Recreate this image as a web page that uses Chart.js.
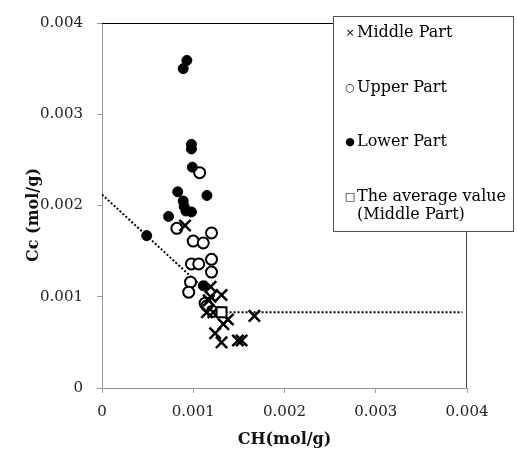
<!DOCTYPE html>
<html lang="en">
<head>
  <meta charset="UTF-8" />
  <title>Cc vs CH</title>
  <script src="https://cdn.jsdelivr.net/npm/chart.js"></script>
  <style>
    body { margin: 0; background: #ffffff; }
    #wrap { position: relative; width: 517px; height: 450px; }
  </style>
</head>
<body>
<div id="wrap"><canvas id="ccChart"></canvas></div>

<script>
  // Middle part (x markers)
  const middleX = [0.00091, 0.00119, 0.00119, 0.00131, 0.00117, 0.00115, 0.00122, 0.00138, 0.00133, 0.00124, 0.00131, 0.00149, 0.00153, 0.00167];
  const middleY = [0.00178, 0.00111, 0.00100, 0.00102, 0.00096, 0.00083, 0.00083, 0.00075, 0.00070, 0.00060, 0.00050, 0.00052, 0.00052, 0.00079];

  // Upper part (open circles)
  const upperX = [0.00107, 0.00082, 0.00120, 0.00100, 0.00111, 0.00098, 0.00106, 0.00120, 0.00120, 0.00097, 0.00095, 0.00113, 0.00115, 0.00121];
  const upperY = [0.00236, 0.00175, 0.00170, 0.00161, 0.00159, 0.00136, 0.00136, 0.00141, 0.00127, 0.00116, 0.00105, 0.00093, 0.00090, 0.00084];

  // Lower part (filled circles)
  const lowerX = [0.00093, 0.00089, 0.00098, 0.00098, 0.00099, 0.00083, 0.00115, 0.00089, 0.00090, 0.00092, 0.00098, 0.00073, 0.00049, 0.00111];
  const lowerY = [0.00359, 0.00350, 0.00267, 0.00262, 0.00242, 0.00215, 0.00211, 0.00205, 0.00199, 0.00194, 0.00193, 0.00188, 0.00167, 0.00112];

  // average value of middle part
  const avgX = [0.00131];
  const avgY = [0.00083];

  // dotted lines
  const slopeX = [0, 0.00115];
  const slopeY = [0.00212, 0.00106];
  const flatX = [0.00131, 0.00395];
  const flatY = [0.00083, 0.00083];

  const tickLabels = ['0', '0.001', '0.002', '0.003', '0.004'];

  const legendItems = [
    { sym: '\u00d7', text: ['Middle Part'], y: 33 },
    { sym: '\u25cb', text: ['Upper Part'], y: 88 },
    { sym: '\u25cf', text: ['Lower Part'], y: 142 },
    { sym: '\u25a1', text: ['The average value', '(Middle Part)'], y: 197 }
  ];

  function pts(xs, ys) {
    return xs.map((x, i) => ({ x: x, y: ys[i] }));
  }

  const serif = "'DejaVu Serif', 'Liberation Serif', serif";

  // top/right frame, y title, custom legend box
  const framePlugin = {
    id: 'frame',
    afterDraw(chart) {
      const ctx = chart.ctx;
      const a = chart.chartArea;
      ctx.save();
      ctx.lineWidth = 1;
      ctx.strokeStyle = '#000000';
      ctx.beginPath();
      ctx.moveTo(a.left, a.top + 0.5);
      ctx.lineTo(a.right, a.top + 0.5);
      ctx.stroke();
      ctx.strokeStyle = '#444444';
      ctx.beginPath();
      ctx.moveTo(a.right - 0.5, a.top);
      ctx.lineTo(a.right - 0.5, a.bottom);
      ctx.stroke();

      // y axis title
      ctx.save();
      ctx.translate(34, 215);
      ctx.rotate(-Math.PI / 2);
      ctx.font = 'bold 16px ' + serif;
      ctx.fillStyle = '#111111';
      ctx.textAlign = 'center';
      ctx.textBaseline = 'middle';
      ctx.fillText('Cc (mol/g)', 0, 0);
      ctx.restore();

      // legend
      ctx.fillStyle = '#ffffff';
      ctx.fillRect(333, 16, 181, 216);
      ctx.strokeStyle = '#555555';
      ctx.strokeRect(333.5, 16.5, 180, 215);
      ctx.fillStyle = '#000000';
      ctx.textBaseline = 'middle';
      legendItems.forEach(it => {
        ctx.font = "11px 'DejaVu Sans', sans-serif";
        ctx.textAlign = 'center';
        ctx.fillText(it.sym, 350, it.y);
        ctx.font = '16px ' + serif;
        ctx.textAlign = 'left';
        it.text.forEach((t, k) => ctx.fillText(t, 357, it.y + k * 18));
      });
      ctx.restore();
    }
  };

  const ctx = document.getElementById('ccChart').getContext('2d');

  new Chart(ctx, {
    type: 'scatter',
    data: {
      datasets: [
        {
          label: 'Middle Part',
          data: pts(middleX, middleY),
          pointStyle: 'crossRot',
          pointRadius: 8,
          borderColor: '#000000',
          borderWidth: 2.5,
          order: 1
        },
        {
          label: 'The average value (Middle Part)',
          data: pts(avgX, avgY),
          pointStyle: 'rect',
          pointRadius: 7,
          backgroundColor: '#ffffff',
          borderColor: '#000000',
          borderWidth: 2,
          order: 0
        },
        {
          label: 'Upper Part',
          data: pts(upperX, upperY),
          pointStyle: 'circle',
          pointRadius: 5.5,
          backgroundColor: '#ffffff',
          borderColor: '#000000',
          borderWidth: 2,
          order: 3
        },
        {
          label: 'Lower Part',
          data: pts(lowerX, lowerY),
          pointStyle: 'circle',
          pointRadius: 5,
          backgroundColor: '#000000',
          borderColor: '#000000',
          borderWidth: 1,
          order: 2
        },
        {
          label: 'slope',
          data: pts(slopeX, slopeY),
          showLine: true,
          pointRadius: 0,
          borderColor: '#000000',
          borderWidth: 2,
          borderDash: [2, 2],
          order: 4
        },
        {
          label: 'flat',
          data: pts(flatX, flatY),
          showLine: true,
          pointRadius: 0,
          borderColor: '#000000',
          borderWidth: 2,
          borderDash: [2, 2],
          order: 4
        }
      ]
    },
    options: {
      responsive: true,
      maintainAspectRatio: false,
      animation: false,
      layout: { padding: { left: 0, right: 50, top: 17, bottom: 0 } },
      plugins: {
        legend: { display: false },
        tooltip: { enabled: false }
      },
      scales: {
        x: {
          type: 'linear',
          min: 0,
          max: 0.004,
          afterFit(scale) { scale.height = 62; },
          ticks: {
            stepSize: 0.001,
            padding: 10,
            color: '#222222',
            font: { family: serif, size: 15 },
            callback: (v, i) => tickLabels[i]
          },
          grid: { drawOnChartArea: false, drawTicks: true, tickLength: 5, color: '#999999' },
          border: { color: '#999999' },
          title: {
            display: true,
            text: 'CH(mol/g)',
            color: '#111111',
            font: { family: serif, size: 16, weight: 'bold' },
            padding: { top: 0, bottom: 1 }
          }
        },
        y: {
          type: 'linear',
          min: 0,
          max: 0.004,
          afterFit(scale) { scale.width = 102; },
          ticks: {
            stepSize: 0.001,
            padding: 14,
            color: '#222222',
            font: { family: serif, size: 15 },
            callback: (v, i) => tickLabels[i]
          },
          grid: { drawOnChartArea: false, drawTicks: true, tickLength: 5, color: '#999999' },
          border: { color: '#999999' }
        }
      }
    },
    plugins: [framePlugin]
  });
</script>
</body>
</html>
